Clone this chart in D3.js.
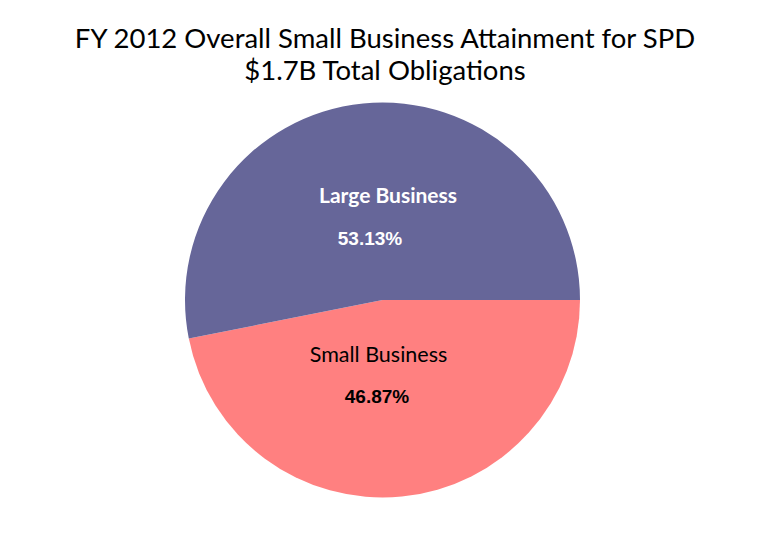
<!DOCTYPE html>
<html><head><meta charset="utf-8">
<script src="https://cdn.jsdelivr.net/npm/d3@7"></script>
<style>body{margin:0;background:#fff}</style>
</head><body>
<svg id="chart" width="766" height="552"></svg>
<script>
const titleLines = ["FY 2012 Overall Small Business Attainment for SPD", "$1.7B Total Obligations"];
const categories = ["Small Business", "Large Business"];
const values = [46.87, 53.13];
const valueLabels = ["46.87%", "53.13%"];
const colors = ["#FF8080", "#666699"];
const textColors = ["#000000", "#FFFFFF"];

const svg = d3.select("#chart");
const cx = 382.5, cy = 300, r = 197.5;

svg.append("g").selectAll("text").data(titleLines).join("text")
  .attr("x", 385).attr("y", (d, i) => 48 + i * 32)
  .attr("text-anchor", "middle")
  .attr("font-family", "Lato, 'Open Sans', sans-serif")
  .attr("font-size", 27.5).attr("fill", "#000")
  .text(d => d);

const data = categories.map((c, i) => ({cat: c, value: values[i], label: valueLabels[i], color: colors[i], tc: textColors[i]}));
const pie = d3.pie().value(d => d.value).sort(null)
  .startAngle(Math.PI / 2).endAngle(Math.PI / 2 + 2 * Math.PI);
const arcs = pie(data);
const arc = d3.arc().innerRadius(0).outerRadius(r);

const g = svg.append("g").attr("transform", `translate(${cx},${cy})`);
g.selectAll("path").data(arcs).join("path")
  .attr("d", arc).attr("fill", d => d.data.color);

// label offsets relative to centre
const catPos = [[-4, 62], [5.5, -97]];
const valPos = [[-5.5, 103], [-12.5, -55]];
const lg = g.append("g");
lg.selectAll("text.cat").data(arcs).join("text").attr("class", "cat")
  .attr("x", (d, i) => catPos[i][0]).attr("y", (d, i) => catPos[i][1])
  .attr("text-anchor", "middle")
  .attr("font-family", "Lato, 'Open Sans', sans-serif")
  .attr("font-weight", (d, i) => i === 1 ? "bold" : "normal")
  .attr("font-size", (d, i) => i === 1 ? 21 : 21.5).attr("fill", d => d.data.tc)
  .text(d => d.data.cat);
lg.selectAll("text.val").data(arcs).join("text").attr("class", "val")
  .attr("x", (d, i) => valPos[i][0]).attr("y", (d, i) => valPos[i][1])
  .attr("text-anchor", "middle")
  .attr("font-family", "'Liberation Sans', Arial, sans-serif")
  .attr("font-weight", "bold")
  .attr("font-size", 19).attr("fill", d => d.data.tc)
  .text(d => d.data.label);
</script>
</body></html>
